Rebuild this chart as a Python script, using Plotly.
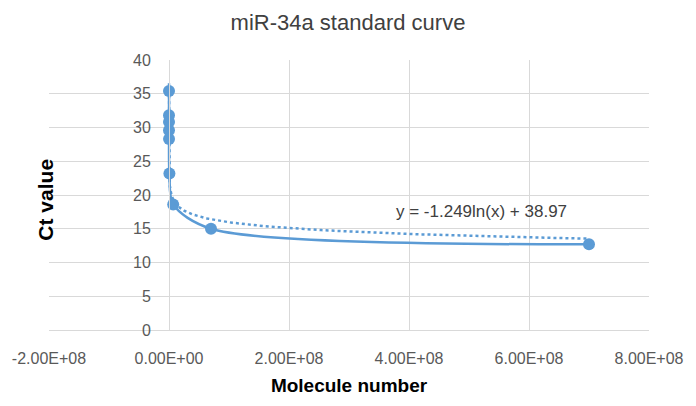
import numpy as np
import plotly.graph_objects as go

# Data
molecule_number = [7e0, 7e1, 7e2, 7e3, 7e4, 7e5, 7e6, 7e7, 7e8]
ct_value = [35.4, 31.8, 30.8, 29.6, 28.3, 23.2, 18.6, 15.0, 12.7]

# Logarithmic trendline as shown on the chart
trend_slope = -1.249
trend_intercept = 38.97
trend_label = "y = -1.249ln(x) + 38.97"

x_tick_vals = [-2e8, 0, 2e8, 4e8, 6e8, 8e8]
x_tick_text = ["-2.00E+08", "0.00E+00", "2.00E+08", "4.00E+08", "6.00E+08", "8.00E+08"]
y_tick_vals = [0, 5, 10, 15, 20, 25, 30, 35, 40]

blue = "#5B9BD5"
grid = "#D9D9D9"
tick_color = "#595959"

tx = np.logspace(np.log10(min(molecule_number)), np.log10(max(molecule_number)), 400)
ty = trend_slope * np.log(tx) + trend_intercept

fig = go.Figure()
fig.add_trace(go.Scatter(
    x=molecule_number, y=ct_value, mode="lines+markers",
    line=dict(color=blue, width=2.5, shape="spline", smoothing=0.85),
    marker=dict(color=blue, size=12),
    showlegend=False, hoverinfo="skip"))
fig.add_trace(go.Scatter(
    x=tx, y=ty, mode="lines",
    line=dict(color=blue, width=2.5, dash="dot"),
    showlegend=False, hoverinfo="skip"))

fig.update_layout(
    width=696, height=406,
    margin=dict(l=44, r=39, t=60, b=76),
    paper_bgcolor="white", plot_bgcolor="white",
    font=dict(family="Liberation Sans, Arial, sans-serif", color=tick_color),
    title=dict(text="miR-34a standard curve", x=0.5, xanchor="center",
               y=1 - 22 / 406, yanchor="middle", yref="container",
               font=dict(size=22, color="#404040")),
    xaxis=dict(range=[-2e8, 8e8], tickvals=x_tick_vals, ticktext=x_tick_text,
               showgrid=True, gridcolor=grid, gridwidth=1,
               zeroline=False, showline=True, linecolor=grid, linewidth=1,
               ticks="", ticklabelstandoff=14,
               tickfont=dict(size=16, color=tick_color),
               title=dict(text="<b>Molecule number</b>", standoff=12,
                          font=dict(size=19, color="#000000"))),
    yaxis=dict(range=[0, 40], tickvals=y_tick_vals,
               anchor="free", position=0.2,
               showgrid=True, gridcolor=grid, gridwidth=1,
               zeroline=False, showline=True, linecolor=grid, linewidth=1,
               ticks="", ticklabelstandoff=15,
               tickfont=dict(size=16, color=tick_color)),
    annotations=[
        dict(text="<b>Ct value</b>", xref="paper", yref="paper",
             x=0.0, y=0.481, xshift=-17, textangle=-90, showarrow=False,
             font=dict(size=21, color="#000000")),
        dict(text=trend_label, xref="x", yref="y", x=5.2e8, y=17.5,
             showarrow=False, font=dict(size=17, color="#404040")),
    ],
)

fig.write_html("out.html")
